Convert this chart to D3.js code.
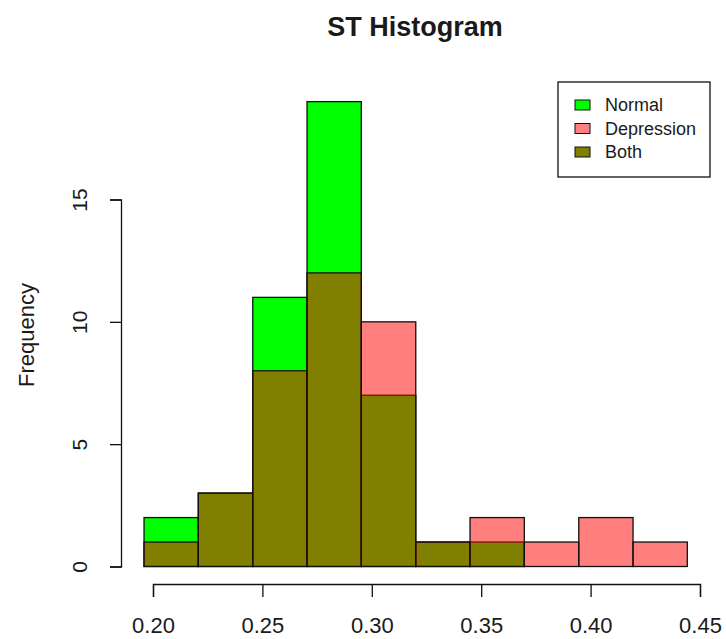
<!DOCTYPE html>
<html>
<head>
<meta charset="utf-8">
<script src="https://cdn.jsdelivr.net/npm/d3@7"></script>
<style>
  body { margin: 0; background: #fff; }
  text { font-family: "Liberation Sans", Arial, sans-serif; fill: #1a1a1a; }
</style>
</head>
<body>
<div id="chart"></div>
<script>
// bin edges
var breaks = [0.1959, 0.2207, 0.2456, 0.2704, 0.2952, 0.3201, 0.3449, 0.3697, 0.3946, 0.4194, 0.4442];
var normalCounts = [2, 3, 11, 19, 7, 1, 1, 0, 0, 0];
var depressionCounts = [1, 3, 8, 12, 10, 1, 2, 1, 2, 1];
var xTicks = [0.20, 0.25, 0.30, 0.35, 0.40, 0.45];
var yTicks = [0, 5, 10, 15];
var legendLabels = ["Normal", "Depression", "Both"];
var legendColors = ["#00ff00", "#ff8080", "#808000"];

var svgWidth = 726;
var svgHeight = 639;

var svg = d3.select("#chart")
  .append("svg")
  .attr("width", svgWidth)
  .attr("height", svgHeight);

var xScale = d3.scaleLinear()
  .domain([0.20, 0.45])
  .range([153, 700]);

var yScale = d3.scaleLinear()
  .domain([0, 15])
  .range([566.5, 199.5]);

function bins(counts) {
  return counts.map(function (c, i) {
    return { x0: breaks[i], x1: breaks[i + 1], n: c };
  });
}

// normal first, solid green
svg.append("g").selectAll("rect")
  .data(bins(normalCounts))
  .enter()
  .append("rect")
  .attr("x", d => xScale(d.x0))
  .attr("width", d => xScale(d.x1) - xScale(d.x0))
  .attr("y", d => yScale(d.n))
  .attr("height", d => yScale(0) - yScale(d.n))
  .attr("fill", "#00ff00")
  .attr("stroke", "#111")
  .attr("stroke-width", 1.3);

// depression on top, half transparent red
svg.append("g").selectAll("rect")
  .data(bins(depressionCounts))
  .enter()
  .append("rect")
  .attr("x", d => xScale(d.x0))
  .attr("width", d => xScale(d.x1) - xScale(d.x0))
  .attr("y", d => yScale(d.n))
  .attr("height", d => yScale(0) - yScale(d.n))
  .attr("fill", "rgba(255,0,0,0.5)")
  .attr("stroke", "#111")
  .attr("stroke-width", 1.3);

// x axis
var bottomAxis = d3.axisBottom(xScale)
  .tickValues(xTicks)
  .tickFormat(d3.format(".2f"))
  .tickSizeOuter(0)
  .tickSize(13)
  .tickPadding(20);

var xg = svg.append("g")
  .attr("transform", "translate(0, 584)")
  .call(bottomAxis);
xg.select(".domain").attr("stroke", "#111").attr("stroke-width", 1.3);
xg.selectAll(".tick line").attr("stroke", "#111").attr("stroke-width", 1.3);
xg.selectAll(".tick text")
  .style("font-size", "22px")
  .style("font-family", "Liberation Sans, Arial, sans-serif")
  .attr("fill", "#1a1a1a");

// y axis
var leftAxis = d3.axisLeft(yScale)
  .tickValues(yTicks)
  .tickSizeOuter(0)
  .tickSize(11);

var yg = svg.append("g")
  .attr("transform", "translate(121, 0)")
  .call(leftAxis);
yg.select(".domain").attr("stroke", "#111").attr("stroke-width", 1.3);
yg.selectAll(".tick line").attr("stroke", "#111").attr("stroke-width", 1.3);
yg.selectAll(".tick text")
  .attr("x", null)
  .attr("dy", null)
  .attr("transform", "translate(-34, 0) rotate(-90)")
  .style("text-anchor", "middle")
  .style("font-size", "21px")
  .style("font-family", "Liberation Sans, Arial, sans-serif")
  .attr("fill", "#1a1a1a");

// title
svg.append("text")
  .attr("x", 415)
  .attr("y", 36)
  .style("text-anchor", "middle")
  .style("font-size", "27px")
  .style("font-weight", "bold")
  .text("ST Histogram");

// y label
svg.append("text")
  .attr("transform", "translate(34, 335) rotate(-90)")
  .style("text-anchor", "middle")
  .style("font-size", "22px")
  .text("Frequency");

// legend
var legend = svg.append("g");
legend.append("rect")
  .attr("x", 558)
  .attr("y", 82)
  .attr("width", 152)
  .attr("height", 95)
  .attr("fill", "#fff")
  .attr("stroke", "#111")
  .attr("stroke-width", 1.3);

var rows = legend.selectAll(".row")
  .data(legendLabels)
  .enter()
  .append("g")
  .attr("transform", (d, i) => `translate(0, ${105 + i * 23.5})`);

rows.append("rect")
  .attr("x", 575)
  .attr("y", -5)
  .attr("width", 15)
  .attr("height", 10)
  .attr("fill", (d, i) => legendColors[i])
  .attr("stroke", "#111")
  .attr("stroke-width", 1);

rows.append("text")
  .attr("x", 605)
  .attr("y", 6)
  .style("font-size", "18px")
  .text(d => d);
</script>
</body>
</html>
